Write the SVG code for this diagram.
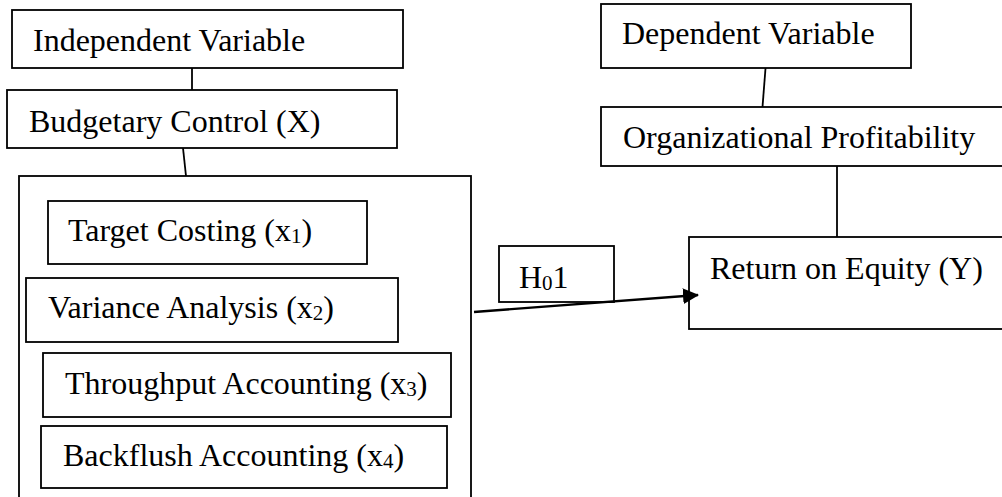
<svg xmlns="http://www.w3.org/2000/svg" width="1002" height="497" viewBox="0 0 1002 497">
<style>
.box{fill:#fff;stroke:#000;stroke-width:1.8}
.t{font-family:"Liberation Serif","Times New Roman",serif;font-size:32px;fill:#000}
.s{font-size:21px}
.c{stroke:#000;stroke-width:1.8;fill:none}
</style>
<defs>
<marker id="ah" markerWidth="16" markerHeight="16" refX="15" refY="8" orient="auto" markerUnits="userSpaceOnUse">
<path d="M0,0 L16,8 L0,16 Z" fill="#000"/>
</marker>
</defs>
<rect width="1002" height="497" fill="#fff"/>
<g id="container">
<rect class="box" x="19" y="176" width="452" height="340"/>
</g>
<g id="connectors">
<line class="c" x1="192" y1="68" x2="192" y2="90"/>
<line class="c" x1="183" y1="148" x2="186" y2="176"/>
<line class="c" x1="766" y1="62" x2="762.5" y2="107"/>
<line class="c" x1="837" y1="166" x2="837" y2="237"/>
</g>
<g id="n-independent">
<rect class="box" x="12" y="10" width="391" height="58"/>
<text class="t" x="33" y="51">Independent Variable</text>
</g>
<g id="n-budgetary">
<rect class="box" x="7" y="90" width="390" height="58"/>
<text class="t" x="29" y="132">Budgetary Control (X)</text>
</g>
<g id="n-target">
<rect class="box" x="48" y="201" width="319" height="63"/>
<text class="t" x="68" y="241">Target Costing (x<tspan class="s" dy="2">1</tspan><tspan dy="-2">)</tspan></text>
</g>
<g id="n-variance">
<rect class="box" x="26" y="278" width="372" height="64"/>
<text class="t" x="48" y="318">Variance Analysis (x<tspan class="s" dy="2">2</tspan><tspan dy="-2">)</tspan></text>
</g>
<g id="n-throughput">
<rect class="box" x="43" y="353" width="408" height="64"/>
<text class="t" x="65" y="394">Throughput Accounting (x<tspan class="s" dy="2">3</tspan><tspan dy="-2">)</tspan></text>
</g>
<g id="n-backflush">
<rect class="box" x="41" y="426" width="406" height="62"/>
<text class="t" x="63" y="466">Backflush Accounting (x<tspan class="s" dy="2">4</tspan><tspan dy="-2">)</tspan></text>
</g>
<g id="n-dependent">
<rect class="box" x="601" y="4" width="310" height="64"/>
<text class="t" x="622" y="44">Dependent Variable</text>
</g>
<g id="n-org">
<rect class="box" x="601" y="107" width="420" height="59"/>
<text class="t" x="623" y="148">Organizational Profitability</text>
</g>
<g id="n-roe">
<rect class="box" x="689" y="237" width="340" height="92"/>
<text class="t" x="710" y="279">Return on Equity (Y)</text>
</g>
<g id="n-h01">
<rect class="box" x="499" y="246" width="115" height="56"/>
<text class="t" x="519" y="288">H<tspan class="s" dy="2">0</tspan><tspan dy="-2">1</tspan></text>
</g>
<g id="arrow">
<line x1="474" y1="312" x2="698" y2="295" stroke="#000" stroke-width="2.4" marker-end="url(#ah)"/>
</g>
</svg>
